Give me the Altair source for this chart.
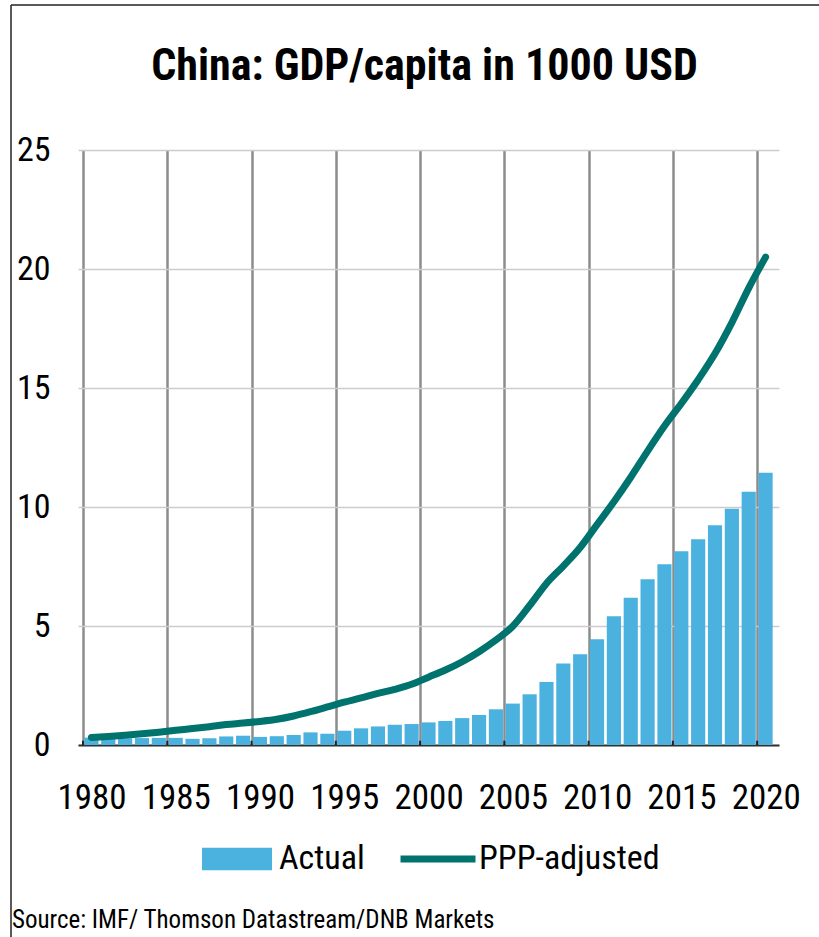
import altair as alt
import pandas as pd

# China GDP per capita, thousand USD
years = list(range(1980, 2021))
actual = [0.31, 0.29, 0.28, 0.29, 0.30, 0.30, 0.26, 0.28, 0.36, 0.39,
          0.34, 0.37, 0.42, 0.53, 0.47, 0.60, 0.70, 0.78, 0.85, 0.88,
          0.95, 1.01, 1.13, 1.26, 1.50, 1.74, 2.13, 2.65, 3.42, 3.81,
          4.44, 5.41, 6.19, 6.96, 7.59, 8.14, 8.64, 9.23, 9.93, 10.64,
          11.44]
ppp = [0.32, 0.36, 0.41, 0.47, 0.54, 0.62, 0.69, 0.77, 0.86, 0.92,
       0.99, 1.08, 1.22, 1.40, 1.60, 1.80, 1.98, 2.17, 2.34, 2.55,
       2.85, 3.15, 3.50, 3.92, 4.41, 4.99, 5.86, 6.79, 7.52, 8.30,
       9.26, 10.22, 11.25, 12.35, 13.40, 14.35, 15.35, 16.45, 17.75, 19.20,
       20.50]
tick_years = [1980, 1985, 1990, 1995, 2000, 2005, 2010, 2015, 2020]
y_ticks = [0, 5, 10, 15, 20, 25]
title_text = ["China: GDP/capita in 1000 USD"]
source_note = ["Source: IMF/ Thomson Datastream/DNB Markets"]

FONT = ("Roboto Condensed, DejaVu Sans Condensed, Liberation Sans Narrow, "
        "Arial Narrow, Liberation Sans, Arial, sans-serif")
BLUE = "#4BB1DF"
TEAL = "#00736E"
W, H = 701, 595

df = pd.DataFrame({"year": years, "actual": actual, "ppp": ppp})

x_scale = alt.Scale(domain=[1980, 2021], nice=False, zero=False)
y_scale = alt.Scale(domain=[0, 25], nice=False)

bars = alt.Chart(df).transform_calculate(
    x0="datum.year + 0.08", x1="datum.year + 0.92", base="0",
    series="'Actual'"
).mark_bar(orient="vertical").encode(
    x=alt.X("x0:Q", scale=x_scale, title=None,
            axis=alt.Axis(values=tick_years, format="d", grid=True,
                          gridColor="#8c8c8c", gridWidth=2.5, ticks=False,
                          domainColor="#333333", domainWidth=2,
                          labelOffset=W / 41 / 2, labelPadding=35,
                          labelFontSize=35, labelFont=FONT, labelColor="black",
                          labelFlush=False)),
    x2="x1:Q",
    y=alt.Y("actual:Q", scale=y_scale, title=None,
            axis=alt.Axis(values=y_ticks, grid=True, gridColor="#cccccc",
                          gridWidth=1.5, ticks=False, domain=False,
                          labelPadding=28, labelFontSize=34, labelFont=FONT,
                          labelColor="black")),
    y2="base:Q",
    color=alt.Color("series:N",
                    scale=alt.Scale(domain=["Actual"], range=[BLUE]),
                    legend=alt.Legend(orient="none", legendX=124, legendY=674,
                                      title=None, padding=0,
                                      symbolType="M-1,-0.32H1V0.32H-1Z",
                                      symbolSize=4900, symbolStrokeWidth=0,
                                      symbolOpacity=1, labelLimit=400,
                                      labelFontSize=34, labelFont=FONT,
                                      labelColor="black", labelOffset=7)),
)

line = alt.Chart(df).transform_calculate(
    xm="datum.year + 0.5", series="'PPP-adjusted'"
).mark_line(strokeWidth=7, strokeCap="round", interpolate="monotone").encode(
    x=alt.X("xm:Q", scale=x_scale),
    y=alt.Y("ppp:Q", scale=y_scale),
    stroke=alt.Stroke("series:N",
                      scale=alt.Scale(domain=["PPP-adjusted"], range=[TEAL]),
                      legend=alt.Legend(orient="none", legendX=319, legendY=668,
                                        title=None, padding=0,
                                        symbolType="stroke", symbolSize=5625,
                                        symbolStrokeWidth=7, labelLimit=400,
                                        labelFontSize=34, labelFont=FONT,
                                        labelColor="black", labelOffset=0)),
)

# short inward ticks on the year axis
ticks = alt.Chart(pd.DataFrame({"year": tick_years})).transform_calculate(
    lo="0", hi="0.18"
).mark_rule(color="#222222", strokeWidth=2).encode(
    x=alt.X("year:Q", scale=x_scale),
    y=alt.Y("lo:Q", scale=y_scale),
    y2="hi:Q",
)

# frame lines around the figure
frame_left = alt.Chart(pd.DataFrame({"k": [0]})).mark_rule(
    color="#222222", strokeWidth=1.5
).encode(x=alt.value(-67), y=alt.value(-145), y2=alt.value(H + 200))
frame_top = alt.Chart(pd.DataFrame({"k": [0]})).mark_rule(
    color="#222222", strokeWidth=1.5
).encode(x=alt.value(-67), x2=alt.value(W + 60), y=alt.value(-145))

title = alt.Chart(pd.DataFrame({"t": title_text})).mark_text(
    align="center", baseline="alphabetic", fontSize=44, fontWeight="bold",
    font=FONT, color="black"
).encode(x=alt.value(W / 2 - 4), y=alt.value(-70), text="t:N")

source = alt.Chart(pd.DataFrame({"note": source_note})).mark_text(
    align="left", baseline="alphabetic", fontSize=25, font=FONT, color="black"
).encode(x=alt.value(-66), y=alt.value(H + 183), text="note:N")

chart = alt.layer(
    bars, line, ticks, frame_left, frame_top, title, source
).resolve_scale(
    color="independent", stroke="independent"
).properties(
    width=W, height=H,
    autosize=alt.AutoSizeParams(type="none"),
    padding={"left": 78, "top": 150, "right": 40, "bottom": 192},
).configure_view(strokeWidth=0)

chart.save("out.html", embed_options={"renderer": "svg", "actions": False})
